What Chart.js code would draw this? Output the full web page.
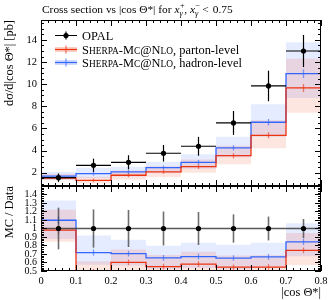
<!DOCTYPE html>
<html><head><meta charset="utf-8">
<script src="https://cdn.jsdelivr.net/npm/chart.js@4.4.1/dist/chart.umd.min.js"></script>
<style>
html,body{margin:0;padding:0;background:#fff;}
#wrap{position:relative;width:332px;height:300px;overflow:hidden;}
#c1{position:absolute;left:0;top:0;}
#c2{position:absolute;left:0;top:186px;}
</style></head><body>
<div id="wrap">
<canvas id="c1" width="332" height="187"></canvas>
<canvas id="c2" width="332" height="114"></canvas>
</div>
<script>
// ---- data ----
const binEdges = [0, 0.1, 0.2, 0.3, 0.4, 0.5, 0.6, 0.7, 0.8];
const opal      = [1.55, 2.67, 2.94, 3.76, 4.39, 6.50, 9.84, 13.0];
const opalErr   = [0.38, 0.60, 0.64, 0.75, 0.85, 1.08, 1.38, 1.45];
const parton    = [1.52, 1.31, 1.77, 2.07, 2.55, 3.54, 5.38, 9.66];
const partonErr = [0.04, 0.04, 0.05, 0.06, 0.07, 0.09, 0.14, 0.22];
const partonUp  = [1.89, 1.64, 2.21, 2.59, 3.19, 4.43, 6.73, 12.3];
const partonLo  = [1.31, 1.02, 1.38, 1.61, 1.99, 2.76, 4.20, 7.43];
const hadron    = [1.70, 1.91, 2.07, 2.46, 2.94, 4.24, 6.56, 10.95];
const hadronErr = [0.04, 0.05, 0.05, 0.06, 0.07, 0.10, 0.15, 0.25];
const hadronUp  = [2.06, 2.45, 2.55, 3.00, 3.66, 5.26, 8.19, 13.8];
const hadronLo  = [1.36, 1.53, 1.66, 1.97, 2.35, 3.39, 5.25, 8.76];
const xTicks      = [0, 0.1, 0.2, 0.3, 0.4, 0.5, 0.6, 0.7, 0.8];
const mainYTicks  = [2, 4, 6, 8, 10, 12, 14];
const ratioYTicks = [0.5, 0.6, 0.7, 0.8, 0.9, 1, 1.1, 1.2, 1.3, 1.4];

// ---- styles ----
const SERIF = "'Liberation Serif', 'DejaVu Serif', serif";
const TXT = 12.4, SMALL = 9.4, TITLE = 11.4;
const RED = '#ee3311', BLUE = '#3366ff';
const RED_BAND = 'rgba(238,51,17,0.13)', BLUE_BAND = 'rgba(51,102,255,0.12)';

const nb = opal.length;
const centres = opal.map((_, i) => (binEdges[i] + binEdges[i + 1]) / 2);
function stepPts(vals) {
  const p = vals.map((v, i) => ({x: binEdges[i], y: v}));
  p.push({x: binEdges[nb], y: vals[nb - 1]});
  return p;
}
const div = (a, b) => a.map((v, i) => v / b[i]);
const fmt = v => String(+Number(v).toFixed(2));

function bandDS(up, lo, col) {
  return [
    {data: stepPts(up), stepped: true, borderWidth: 0, pointRadius: 0, fill: '+1', backgroundColor: col, order: 3},
    {data: stepPts(lo), stepped: true, borderWidth: 0, pointRadius: 0, fill: false, order: 3}
  ];
}
function lineDS(vals, col) {
  return {data: stepPts(vals), stepped: true, borderColor: col, borderWidth: 1.3, pointRadius: 0, fill: false, order: 2};
}
function pointDS(vals) {
  return {data: vals.map((v, i) => ({x: centres[i], y: v})), showLine: false, pointRadius: 2.6,
          pointBackgroundColor: '#000', pointBorderWidth: 0, order: 1};
}

function drawFrame(chart, xMinor, yMinor, yMajor) {
  const {ctx, chartArea: a, scales} = chart;
  const xs = scales.x, ys = scales.y;
  ctx.save();
  ctx.strokeStyle = '#000'; ctx.lineWidth = 1;
  ctx.strokeRect(a.left + 0.5, a.top + 0.5, a.right - a.left - 1, a.bottom - a.top - 1);
  ctx.beginPath();
  const eps = 1e-9;
  for (let v = xs.min; v <= xs.max + eps; v += xMinor) {
    const px = Math.round(xs.getPixelForValue(v)) + 0.5;
    const major = Math.abs(v / 0.1 - Math.round(v / 0.1)) < 1e-6;
    const L = major ? 6 : 3;
    ctx.moveTo(px, a.top); ctx.lineTo(px, a.top + L);
    ctx.moveTo(px, a.bottom); ctx.lineTo(px, a.bottom - L);
  }
  const start = Math.ceil(ys.min / yMinor - eps) * yMinor;
  for (let v = start; v <= ys.max + eps; v += yMinor) {
    const py = Math.round(ys.getPixelForValue(v)) + 0.5;
    const major = Math.abs(v / yMajor - Math.round(v / yMajor)) < 1e-6;
    const L = major ? 6 : 3;
    ctx.moveTo(a.left, py); ctx.lineTo(a.left + L, py);
    ctx.moveTo(a.right, py); ctx.lineTo(a.right - L, py);
  }
  ctx.stroke();
  ctx.restore();
}

function clip(chart) {
  const {ctx, chartArea: a} = chart;
  ctx.save(); ctx.beginPath(); ctx.rect(a.left, a.top, a.right - a.left, a.bottom - a.top); ctx.clip();
}

function drawDataBars(chart, vals, errs, colH, colV, lw) {
  const {ctx, scales: {x, y}} = chart;
  clip(chart);
  ctx.lineWidth = lw;
  for (let i = 0; i < nb; i++) {
    const py = y.getPixelForValue(vals[i]);
    ctx.strokeStyle = colH;
    ctx.beginPath();
    ctx.moveTo(x.getPixelForValue(binEdges[i]), py); ctx.lineTo(x.getPixelForValue(binEdges[i + 1]), py);
    ctx.stroke();
    const px = x.getPixelForValue(centres[i]);
    ctx.strokeStyle = colV;
    ctx.beginPath();
    ctx.moveTo(px, y.getPixelForValue(vals[i] - errs[i])); ctx.lineTo(px, y.getPixelForValue(vals[i] + errs[i]));
    ctx.stroke();
  }
  ctx.restore();
}
function drawMCErr(chart, vals, errs, col) {
  const {ctx, scales: {x, y}} = chart;
  clip(chart);
  ctx.strokeStyle = col; ctx.lineWidth = 1.3; ctx.globalAlpha = 0.6;
  ctx.beginPath();
  for (let i = 0; i < nb; i++) {
    const px = x.getPixelForValue(centres[i]);
    ctx.moveTo(px, y.getPixelForValue(vals[i] - errs[i]) + 1.5);
    ctx.lineTo(px, y.getPixelForValue(vals[i] + errs[i]) - 1.5);
  }
  ctx.stroke();
  ctx.restore();
}

function drawPieces(ctx, x, y, pieces, base) {
  for (const p of pieces) {
    ctx.font = (p.it ? 'italic ' : '') + (p.size || base || TXT) + 'px ' + SERIF;
    const px = x + (p.dx || 0);
    ctx.fillText(p.t, px, y + (p.dy || 0));
    if (!p.stack) x = px + ctx.measureText(p.t).width;
  }
  return x;
}
function sherpaPieces(rest) {
  return [{t: 'S'}, {t: 'HERPA', size: SMALL}, {t: '-M'}, {t: 'C', size: SMALL}, {t: '@N'}, {t: 'LO', size: SMALL}, {t: rest}];
}
function noPad(s) { s.paddingTop = 0; s.paddingBottom = 0; }

const ratioP = div(parton, opal), ratioH = div(hadron, opal);

const common = {
  responsive: false, animation: false, events: [],
  plugins: {legend: {display: false}, tooltip: {enabled: false}, title: {display: false}},
};

// ---- main panel ----
new Chart(document.getElementById('c1'), {
  type: 'line',
  data: {datasets: [
    ...bandDS(partonUp, partonLo, RED_BAND),
    ...bandDS(hadronUp, hadronLo, BLUE_BAND),
    lineDS(parton, RED), lineDS(hadron, BLUE),
    pointDS(opal)
  ]},
  options: {...common,
    layout: {autoPadding: false, padding: {left: 0, right: 11, top: 20, bottom: 1}},
    scales: {
      x: {type: 'linear', min: 0, max: 0.8, display: false},
      y: {type: 'linear', min: 0.8, max: 15.8,
        afterFit: s => { s.width = 41; noPad(s); },
        afterBuildTicks: s => { s.ticks = mainYTicks.map(v => ({value: v})); },
        grid: {display: false, drawTicks: false}, border: {display: false},
        ticks: {color: '#000', font: {family: SERIF, size: 10.5}, padding: 4, callback: fmt, autoSkip: false},
        title: {display: true, text: 'dσ/d|cos Θ*| [pb]', align: 'end', color: '#000',
                font: {family: SERIF, size: TXT}, padding: {top: 2, bottom: 0}}
      }
    }
  },
  plugins: [{
    id: 'mainDecor',
    beforeDatasetDraw(chart, args) {
      if (args.index === 6) drawDataBars(chart, opal, opalErr, '#000', '#000', 1.2);
    },
    afterDatasetDraw(chart, args) {
      if (args.index === 4) drawMCErr(chart, parton, partonErr, RED);
      if (args.index === 5) drawMCErr(chart, hadron, hadronErr, BLUE);
    },
    afterDraw(chart) {
      const ctx = chart.ctx;
      drawFrame(chart, 0.02, 0.5, 2);
      ctx.save();
      ctx.fillStyle = '#000'; ctx.textBaseline = 'alphabetic'; ctx.textAlign = 'left';
      // title
      const ty = 12.5, S = 8.2;
      let x = drawPieces(ctx, 42, ty, [{t: 'Cross section vs |cos Θ*| for '}], TITLE);
      x = drawPieces(ctx, x, ty, [{t: 'x', it: true}], TITLE);
      drawPieces(ctx, x + 0.5, ty, [{t: '+', size: S, dy: -4.5, stack: true}]);
      x = drawPieces(ctx, x, ty, [{t: 'γ', size: S, dy: 3, it: true}]);
      x = drawPieces(ctx, x + 1.5, ty, [{t: ','}], TITLE);
      x = drawPieces(ctx, x + 3, ty, [{t: 'x', it: true}], TITLE);
      drawPieces(ctx, x + 0.5, ty, [{t: '−', size: S, dy: -4.5, stack: true}]);
      x = drawPieces(ctx, x, ty, [{t: 'γ', size: S, dy: 3, it: true}]);
      x = drawPieces(ctx, x + 4, ty, [{t: '<'}], TITLE);
      drawPieces(ctx, x + 4, ty, [{t: '0.75'}], TITLE);
      // legend
      const lx0 = 55, lx1 = 77, tx = 82;
      const rows = [35.5, 49.5, 62.5];
      ctx.strokeStyle = '#000'; ctx.lineWidth = 1.2;
      ctx.beginPath(); ctx.moveTo(lx0, rows[0]); ctx.lineTo(lx1, rows[0]);
      ctx.moveTo((lx0 + lx1) / 2, rows[0] - 4); ctx.lineTo((lx0 + lx1) / 2, rows[0] + 4); ctx.stroke();
      ctx.beginPath(); ctx.arc((lx0 + lx1) / 2, rows[0], 2.6, 0, Math.PI * 2); ctx.fill();
      [[RED_BAND, RED, 1], [BLUE_BAND, BLUE, 2]].forEach(([bc, lc, r]) => {
        ctx.fillStyle = bc; ctx.fillRect(lx0, rows[r] - 2.5, lx1 - lx0, 5);
        ctx.fillRect(lx0, rows[r] - 2.5, lx1 - lx0, 5);
        ctx.strokeStyle = lc; ctx.lineWidth = 1.2;
        ctx.beginPath(); ctx.moveTo(lx0, rows[r]); ctx.lineTo(lx1, rows[r]); ctx.stroke();
        ctx.globalAlpha = 0.7;
        ctx.beginPath(); ctx.moveTo((lx0 + lx1) / 2, rows[r] - 4); ctx.lineTo((lx0 + lx1) / 2, rows[r] + 4); ctx.stroke();
        ctx.globalAlpha = 1;
      });
      ctx.fillStyle = '#000';
      drawPieces(ctx, tx, rows[0] + 4.2, [{t: 'OPAL'}]);
      drawPieces(ctx, tx, rows[1] + 4.2, sherpaPieces(', parton-level'));
      drawPieces(ctx, tx, rows[2] + 4.2, sherpaPieces(', hadron-level'));
      ctx.restore();
    }
  }]
});

// ---- ratio panel ----
const ones = opal.map(() => 1);
new Chart(document.getElementById('c2'), {
  type: 'line',
  data: {datasets: [
    ...bandDS(div(partonUp, opal), div(partonLo, opal), RED_BAND),
    ...bandDS(div(hadronUp, opal), div(hadronLo, opal), BLUE_BAND),
    lineDS(ratioP, RED), lineDS(ratioH, BLUE),
    pointDS(ones)
  ]},
  options: {...common,
    layout: {autoPadding: false, padding: {left: 0, right: 11, top: 0, bottom: 0}},
    scales: {
      x: {type: 'linear', min: 0, max: 0.8,
        afterFit: s => { s.height = 29; },
        afterBuildTicks: s => { s.ticks = xTicks.map(v => ({value: v})); },
        grid: {display: false, drawTicks: false}, border: {display: false},
        ticks: {color: '#000', font: {family: SERIF, size: 10.5}, padding: 4, callback: fmt, autoSkip: false, maxRotation: 0},
        title: {display: true, text: '|cos Θ*|', align: 'end', color: '#000',
                font: {family: SERIF, size: TXT}, padding: {top: 0, bottom: 0}}
      },
      y: {type: 'linear', min: 0.5, max: 1.5,
        afterFit: s => { s.width = 41; noPad(s); },
        afterBuildTicks: s => { s.ticks = ratioYTicks.map(v => ({value: v})); },
        grid: {display: false, drawTicks: false}, border: {display: false},
        ticks: {color: '#000', font: {family: SERIF, size: 10}, padding: 4, callback: fmt, autoSkip: false},
        title: {display: true, text: 'MC / Data', align: 'end', color: '#000',
                font: {family: SERIF, size: TXT}, padding: {top: 2, bottom: 0}}
      }
    }
  },
  plugins: [{
    id: 'ratioDecor',
    beforeDatasetDraw(chart, args) {
      if (args.index === 6) drawDataBars(chart, ones, div(opalErr, opal), 'rgba(60,60,60,0.85)', 'rgba(60,60,60,0.75)', 1.6);
    },
    afterDatasetDraw(chart, args) {
      if (args.index === 4) drawMCErr(chart, ratioP, div(partonErr, opal), RED);
      if (args.index === 5) drawMCErr(chart, ratioH, div(hadronErr, opal), BLUE);
    },
    afterDraw(chart) { drawFrame(chart, 0.02, 0.02, 0.1); }
  }]
});
</script>
</body></html>
